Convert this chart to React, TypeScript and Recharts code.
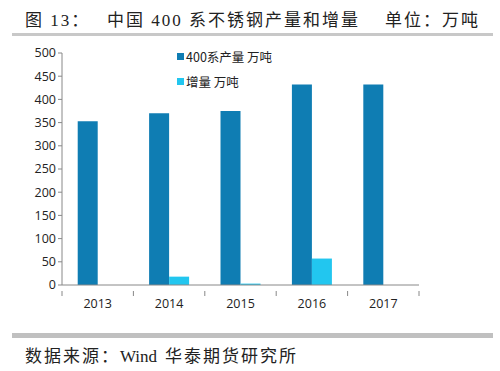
import { BarChart, Bar, XAxis, YAxis } from 'recharts'

const years = ['2013', '2014', '2015', '2016', '2017']
const output400 = [353, 370, 375, 432, 432]
const increase = [0, 18, 3, 57, 0]
const yTicks = [0, 50, 100, 150, 200, 250, 300, 350, 400, 450, 500]

const seriesNames = { output: '400系产量 万吨', inc: '增量 万吨' }
const DARK = '#0F7DB3'
const LIGHT = '#22C6EF'

const data = years.map((y, i) => ({ year: y, output: output400[i], inc: increase[i] }))

const tickFont = { fill: '#222', fontSize: 12.5, fontFamily: '"Open Sans", "DejaVu Sans", sans-serif' }

const PLOT_W = 357
const BAND = PLOT_W / years.length

// category label plus tick marks on the band edges
const YearTick = (props: any) => {
  const { x, y, payload, index } = props
  return (
    <g>
      <line x1={x - BAND / 2} x2={x - BAND / 2} y1={y - 8} y2={y - 3} stroke="#888" />
      {index === years.length - 1 && (
        <line x1={x + BAND / 2} x2={x + BAND / 2} y1={y - 8} y2={y - 3} stroke="#888" />
      )}
      <text
        x={x}
        y={y + 9}
        textAnchor="middle"
        fill="#222"
        style={{ fontFamily: tickFont.fontFamily, fontSize: tickFont.fontSize }}
      >
        {payload.value}
      </text>
    </g>
  )
}

const serif = '"Liberation Serif", "Noto Sans CJK SC", serif'
const headText = { position: 'absolute' as const, fontFamily: serif, fontSize: 17, color: '#222', whiteSpace: 'pre' as const, letterSpacing: 2 }

export default function App() {
  return (
    <div style={{ position: 'absolute', left: 0, top: 0, width: 500, height: 371, background: '#fff' }}>
      <div style={{ ...headText, left: 25, top: 6 }}>图 13：</div>
      <div style={{ ...headText, left: 107, top: 6 }}>中国 400 系不锈钢产量和增量</div>
      <div style={{ ...headText, left: 385, top: 6 }}>单位：万吨</div>
      <div style={{ position: 'absolute', left: 12, top: 33, width: 481, height: 3, background: '#c8c8c8' }} />
      <BarChart
        width={500}
        height={371}
        data={data}
        margin={{ top: 53, right: 81, left: 22, bottom: 56 }}
        barCategoryGap="22%"
        barGap={0}
      >
        <XAxis
          dataKey="year"
          stroke="#888"
          tick={<YearTick />}
          tickLine={false}
          tickMargin={8}
          height={30}
        />
        <YAxis
          domain={[0, 500]}
          ticks={yTicks}
          stroke="#888"
          tick={tickFont}
          tickSize={4}
          width={40}
          interval={0}
        />
        <Bar dataKey="output" name={seriesNames.output} fill={DARK} isAnimationActive={false} />
        <Bar dataKey="inc" name={seriesNames.inc} fill={LIGHT} isAnimationActive={false} />
      </BarChart>
      <div
        style={{
          position: 'absolute',
          left: 177,
          top: 44,
          fontFamily: '"Noto Sans CJK SC", sans-serif',
          fontSize: 12.5,
          color: '#222',
        }}
      >
        {[
          { c: DARK, t: seriesNames.output },
          { c: LIGHT, t: seriesNames.inc },
        ].map((it) => (
          <div key={it.t} style={{ display: 'flex', alignItems: 'center', height: 25 }}>
            <span style={{ width: 7, height: 7, background: it.c, marginRight: 2 }} />
            <span>{it.t}</span>
          </div>
        ))}
      </div>
      <div style={{ position: 'absolute', left: 12, top: 333, width: 481, height: 5, background: '#c0c0c0' }} />
      <div style={{ ...headText, left: 25, top: 342 }}>
        数据来源：<span style={{ letterSpacing: 0, marginRight: 8 }}>Wind</span>华泰期货研究所
      </div>
    </div>
  )
}
